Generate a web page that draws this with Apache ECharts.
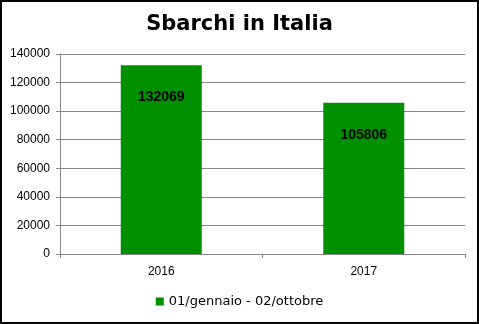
<!DOCTYPE html>
<html>
<head>
<meta charset="utf-8">
<script src="https://cdn.jsdelivr.net/npm/echarts@6/dist/echarts.min.js"></script>
<style>
html, body { margin: 0; padding: 0; background: #fff; }
#main { width: 479px; height: 324px; box-sizing: border-box; border: 2px solid #000; }
</style>
</head>
<body>
<div id="main"></div>
<script>
var years = ['2016', '2017'];
var sbarchi = [132069, 105806];
var serieName = '01/gennaio - 02/ottobre';

var chart = echarts.init(document.getElementById('main'));
var option = {
    animation: false,
    backgroundColor: '#fff',
    title: {
        text: 'Sbarchi in Italia',
        left: 'center',
        top: 7,
        textStyle: {
            fontFamily: 'DejaVu Sans',
            fontWeight: 'bold',
            fontSize: 21,
            color: '#000'
        }
    },
    legend: {
        data: [serieName],
        bottom: 9,
        left: 'center',
        itemWidth: 8,
        itemHeight: 8,
        itemGap: 4,
        icon: 'rect',
        textStyle: {
            fontFamily: 'DejaVu Sans',
            fontSize: 13,
            color: '#000'
        }
    },
    grid: {
        left: 58,
        right: 12,
        top: 52,
        bottom: 68
    },
    xAxis: {
        type: 'category',
        data: years,
        axisLine: { lineStyle: { color: '#868686' } },
        axisTick: { show: true, alignWithLabel: false, length: 4, lineStyle: { color: '#868686' } },
        axisLabel: {
            margin: 12,
            fontFamily: 'Liberation Sans',
            fontSize: 12,
            color: '#000'
        }
    },
    yAxis: {
        type: 'value',
        min: 0,
        max: 140000,
        interval: 20000,
        axisLine: { show: true, lineStyle: { color: '#868686' } },
        axisTick: { show: true, length: 4, lineStyle: { color: '#868686' } },
        splitLine: { lineStyle: { color: '#868686' } },
        axisLabel: {
            margin: 10,
            fontFamily: 'Liberation Sans',
            fontSize: 12,
            color: '#000',
            formatter: function (v) { return String(v); }
        }
    },
    series: [{
        name: serieName,
        type: 'bar',
        data: sbarchi,
        barWidth: '40%',
        itemStyle: { color: '#009000' },
        label: {
            show: true,
            position: 'insideTop',
            distance: 25,
            fontFamily: 'Liberation Sans',
            fontWeight: 'bold',
            fontSize: 14,
            color: '#000'
        }
    }]
};
chart.setOption(option);
</script>
</body>
</html>
